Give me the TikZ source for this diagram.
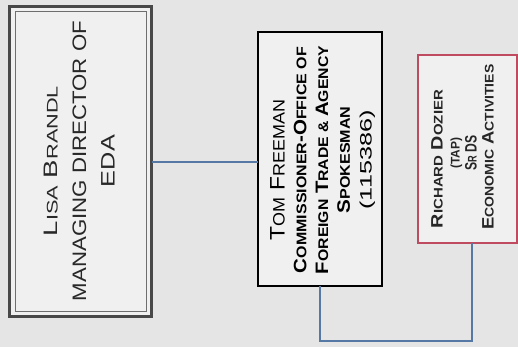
\documentclass[tikz,border=0pt]{standalone}
\usepackage{fontspec}
\setmainfont{Liberation Sans}
\usepackage{graphicx}
\newcommand\W[2]{\resizebox{#1}{\height}{#2}}
\newcommand\fs[2]{{\fontsize{#1}{#1}\selectfont #2}}
\definecolor{bgc}{RGB}{229,229,229}
\definecolor{boxfill}{RGB}{240,240,240}
\definecolor{frameA}{RGB}{72,72,72}
\definecolor{frameAin}{RGB}{110,110,110}
\definecolor{redframe}{RGB}{190,75,95}
\definecolor{conncol}{RGB}{85,120,165}
\definecolor{txtA}{RGB}{40,40,40}
\begin{document}
\begin{tikzpicture}[x=1pt,y=-1pt,
  box/.style={fill=boxfill, inner sep=0pt, outer sep=0pt},
  label/.style={rotate=90, align=center, inner sep=0pt, anchor=north},
  conn/.style={draw=conncol, line width=1.7pt}
]
\fill[bgc] (0,0) rectangle (518,347);
\useasboundingbox (0,0) rectangle (518,347);

% boxes
\node[box, draw=frameA, line width=3pt, minimum width=142pt, minimum height=310pt] (b1) at (80.5,161.5) {};
\draw[frameAin, line width=1pt] ([xshift=5.5pt,yshift=-5.5pt]b1.north west) rectangle ([xshift=-5.5pt,yshift=5.5pt]b1.south east);
\node[box, draw=black, line width=1.6pt, minimum width=124.4pt, minimum height=254.4pt] (b2) at (320,159) {};
\node[box, draw=redframe, line width=2pt, minimum width=98.5pt, minimum height=188pt] (b3) at (467.25,149) {};

% texts
\node[label, text=txtA, font={\fontsize{19.5}{28.5}\selectfont}] (t1) at (44,161) {%
  \W{150pt}{L\fs{15.4}{ISA} B\fs{15.4}{RANDL}}\\
  \W{280pt}{MANAGING DIRECTOR OF}\\
  \W{52pt}{EDA}};

\node[label, text=black, font={\fontsize{18}{21.75}\selectfont}] (t2) at (270,160) {%
  \W{140pt}{\fs{21}{T\fs{16.5}{OM} F\fs{16.5}{REEMAN}}}\hspace*{20pt}\\
  \W{226pt}{\bfseries C\fs{14}{OMMISSIONER}-O\fs{14}{FFICE OF}}\\
  \W{228pt}{\bfseries F\fs{14}{OREIGN} T\fs{14}{RADE \& }A\fs{14}{GENCY}}\\
  \W{107pt}{\bfseries S\fs{14}{POKESMAN}}\\
  \W{99pt}{\fs{16.5}{(115386)}}};

\node[label, text=black!85, font={\fontsize{16.5}{17}\selectfont\bfseries}] (t3) at (431,153) {%
  \W{138pt}{R\fs{12.5}{ICHARD} D\fs{12.5}{OZIER}}\hspace*{12pt}\\
  \W{31pt}{\fs{12.5}{(TAP)}}\hspace*{9pt}\\
  \W{35pt}{S\fs{12.5}{R} DS}\hspace*{9pt}\\
  \hspace*{12pt}\W{165pt}{E\fs{12.5}{CONOMIC} A\fs{12.5}{CTIVITIES}}};

% connectors
\coordinate (cc) at (472,341);
\draw[conn] ([yshift=-0.5pt]b1.east) -- ([yshift=-0.5pt]b1.east -| b2.west);
\draw[conn] (b2.south) |- (cc) -- (cc |- b3.south);
\end{tikzpicture}
\end{document}
